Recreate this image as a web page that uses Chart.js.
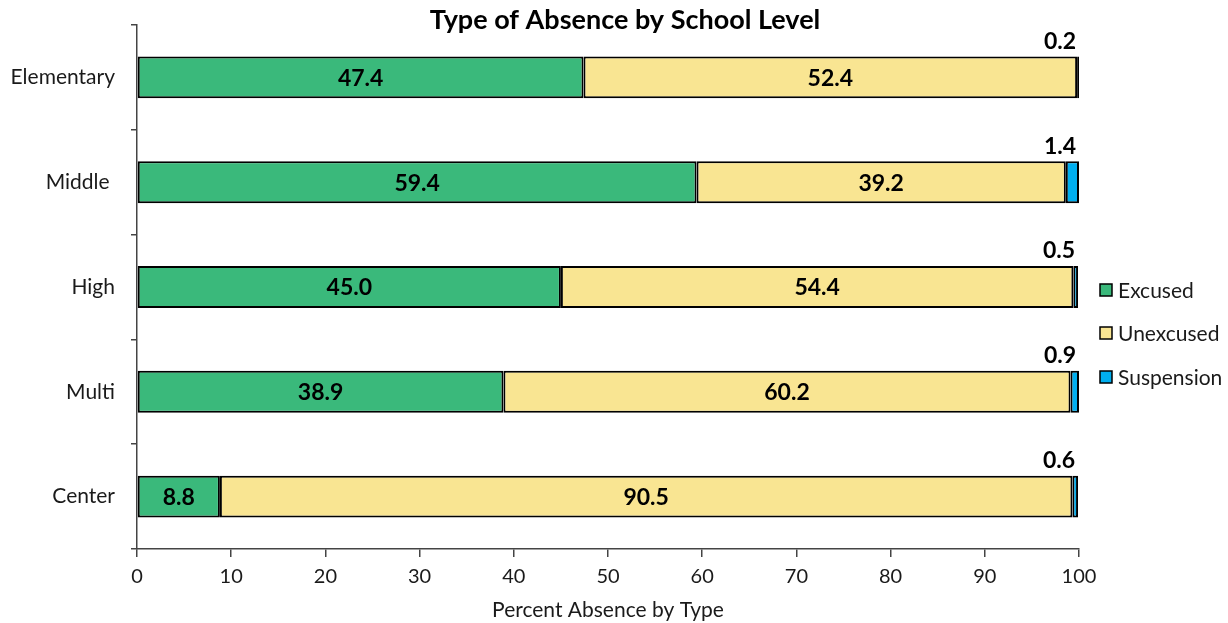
<!DOCTYPE html>
<html>
<head>
<meta charset="utf-8">
<script src="https://cdn.jsdelivr.net/npm/chart.js@4.4.1/dist/chart.umd.min.js"></script>
<style>
  html, body { margin: 0; padding: 0; background: #fff; }
  #wrap { width: 1228px; height: 623px; }
</style>
</head>
<body>
<div id="wrap"><canvas id="c" width="1228" height="623"></canvas></div>
<script>
const categories = ["Elementary", "Middle ", "High", "Multi", "Center"];
const excused = [47.4, 59.4, 45.0, 38.9, 8.8];
const unexcused = [52.4, 39.2, 54.4, 60.2, 90.5];
const suspension = [0.2, 1.4, 0.5, 0.9, 0.6];
const xTicks = [0, 10, 20, 30, 40, 50, 60, 70, 80, 90, 100];
const seriesNames = ["Excused", "Unexcused", "Suspension"];
const seriesColors = ["#3AB97B", "#F9E592", "#00AEEF"];

const FONT = "Lato, 'Noto Sans', sans-serif";
const TXT = "#1a1a1a";

const valueLabels = {
  id: 'valueLabels',
  afterDatasetsDraw(chart) {
    const ctx = chart.ctx;
    ctx.save();
    ctx.fillStyle = "#000";
    ctx.font = "bold 23px " + FONT;
    ctx.textBaseline = "middle";
    chart.data.datasets.forEach((ds, di) => {
      const meta = chart.getDatasetMeta(di);
      meta.data.forEach((bar, i) => {
        const v = ds.data[i];
        const txt = v.toFixed(1);
        ctx.textAlign = "center";
        if (di < 2) {
          ctx.fillText(txt, (bar.x + bar.base) / 2, bar.y + 1);
        } else {
          ctx.fillText(txt, bar.x - 19, bar.y - bar.height / 2 - 15);
        }
      });
    });
    ctx.restore();
  }
};

const titleAndLegend = {
  id: 'titleAndLegend',
  afterDraw(chart) {
    const ctx = chart.ctx;
    ctx.save();
    ctx.fillStyle = "#000";
    ctx.font = "bold 27px " + FONT;
    ctx.textAlign = "center";
    ctx.textBaseline = "middle";
    ctx.fillText("Type of Absence by School Level", 625, 20);
    const ys = [290, 333, 377];
    ctx.font = "21px " + FONT;
    ctx.textAlign = "left";
    chart.data.datasets.forEach((ds, i) => {
      const y = ys[i];
      ctx.fillStyle = ds.backgroundColor;
      ctx.fillRect(1100, y - 6, 12, 12);
      ctx.lineWidth = 1.5;
      ctx.strokeStyle = "#000";
      ctx.strokeRect(1100, y - 6, 12, 12);
      ctx.fillStyle = TXT;
      ctx.fillText(ds.label, 1118, y + 1);
    });
    ctx.restore();
  }
};

new Chart(document.getElementById('c'), {
  type: 'bar',
  data: {
    labels: categories,
    datasets: [excused, unexcused, suspension].map((d, i) => ({
      label: seriesNames[i],
      data: d,
      backgroundColor: seriesColors[i],
      borderColor: "#000",
      borderWidth: 2,
      borderSkipped: false,
      barPercentage: 0.4,
      categoryPercentage: 1.0
    }))
  },
  options: {
    indexAxis: 'y',
    responsive: false,
    devicePixelRatio: 1,
    animation: false,
    layout: { padding: { top: 25, right: 149, left: 0, bottom: 0 } },
    plugins: {
      legend: { display: false },
      title: { display: false },
      tooltip: { enabled: false }
    },
    scales: {
      x: {
        stacked: true,
        min: 0, max: 100,
        afterBuildTicks(scale) { scale.ticks = xTicks.map(v => ({ value: v })); },
        afterFit(scale) { scale.height = 74; scale.paddingLeft = 0; scale.paddingRight = 0; },
        border: { color: "#444", width: 1.5 },
        grid: { drawOnChartArea: false, drawTicks: true, tickLength: 8, color: "#444", lineWidth: 1.5 },
        ticks: { color: TXT, font: { family: FONT, size: 20 }, padding: 8, maxRotation: 0 },
        title: { display: true, text: "Percent Absence by Type", color: TXT, font: { family: FONT, size: 21 }, padding: { top: 0, bottom: 0 } }
      },
      y: {
        stacked: true,
        offset: true,
        afterFit(scale) { scale.width = 137; scale.paddingTop = 0; scale.paddingBottom = 0; },
        border: { color: "#444", width: 1.5 },
        grid: { offset: true, drawOnChartArea: false, drawTicks: true, tickLength: 6, color: "#444", lineWidth: 1.5 },
        ticks: { color: TXT, font: { family: FONT, size: 21 }, padding: 16 }
      }
    }
  },
  plugins: [valueLabels, titleAndLegend]
});
</script>
</body>
</html>
